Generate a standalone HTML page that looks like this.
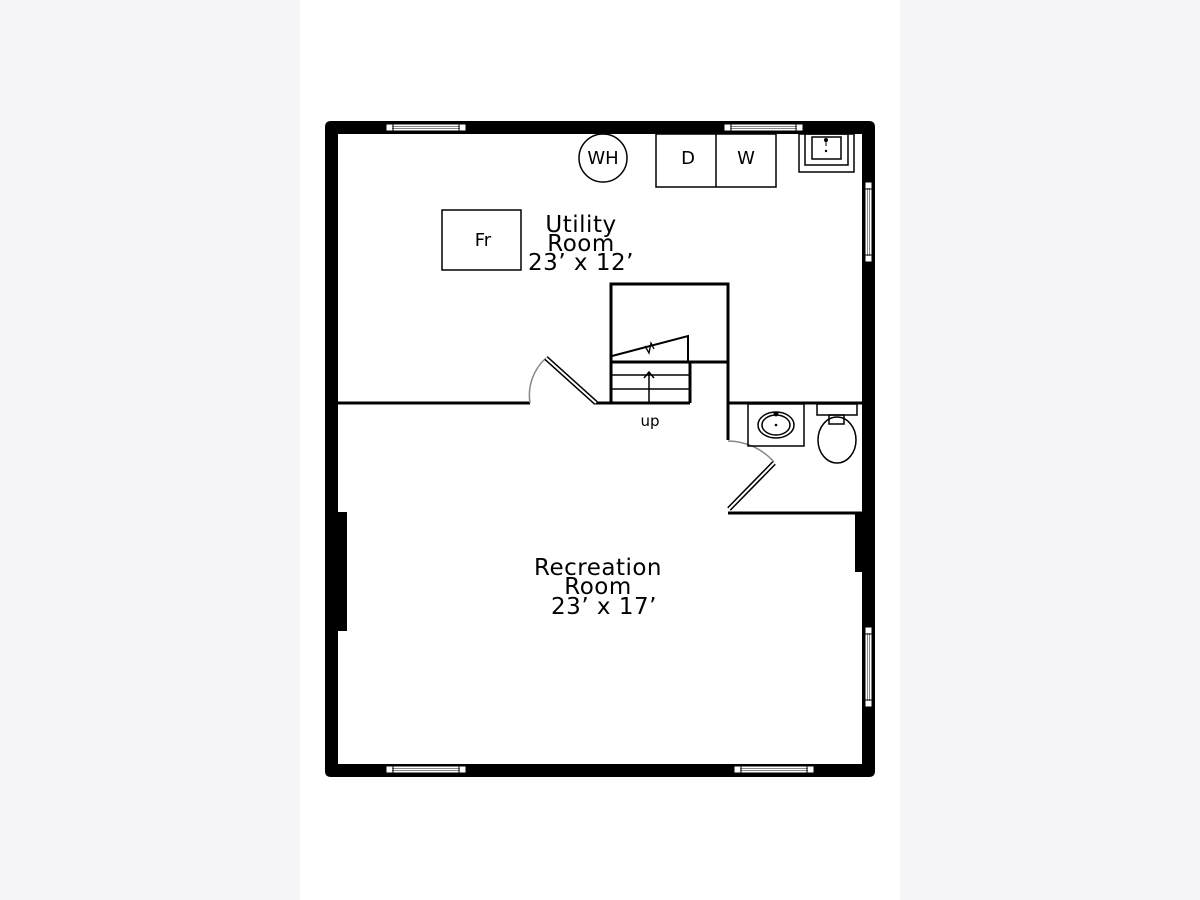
<!DOCTYPE html>
<html><head><style>
html,body{margin:0;padding:0;background:#f5f4f7;}
#c{position:absolute;left:300px;top:0;width:600px;height:900px;background:#fff;}
svg{position:absolute;left:0;top:0;}
text{font-family:"DejaVu Sans","Liberation Sans",sans-serif;fill:#000;}
</style></head><body>
<div id="c"></div>
<svg width="1200" height="900" viewBox="0 0 1200 900">
<path d="M331,121 H869 Q875,121 875,127 V771 Q875,777 869,777 H331 Q325,777 325,771 V127 Q325,121 331,121 Z M338,134 V764 H862 V134 Z" fill="#000" fill-rule="evenodd"/>
<rect x="337" y="512" width="10" height="119" fill="#000"/>
<rect x="855" y="514" width="8" height="58" fill="#000"/>
<g fill="#fff" stroke="#000" stroke-width="1">
<rect x="386" y="124" width="80" height="7"/>
<rect x="724" y="124" width="79" height="7"/>
<rect x="386" y="766" width="80" height="7"/>
<rect x="734" y="766" width="80" height="7"/>
<rect x="865" y="182" width="7" height="80"/>
<rect x="865" y="627" width="7" height="80"/>
</g>
<g stroke="#888" stroke-width="1" fill="none">
<path d="M392,126.5H460M392,128.5H460M730,126.5H797M730,128.5H797M392,768.5H460M392,770.5H460M740,768.5H808M740,770.5H808"/>
<path d="M867.5,188V256M869.5,188V256M867.5,633V701M869.5,633V701"/>
</g>
<g stroke="#000" stroke-width="1" fill="none">
<path d="M393,124V131M459,124V131M731,124V131M796,124V131M393,766V773M459,766V773M741,766V773M807,766V773M865,189H872M865,255H872M865,634H872M865,700H872"/>
</g>
<g stroke="#000" stroke-width="3" fill="none">
<path d="M338,403H530"/>
<path d="M595,403H611V284H728V403H862"/>
<path d="M611,362H690M690,362V403M611,403H690M690,362H728"/>
<path d="M728,403V440"/>
<path d="M728,513H862"/>
</g>
<g stroke="#000" stroke-width="1.5" fill="none">
<path d="M611,375H690M611,389H690"/>
<path d="M649,403V372M644,378L649,372L654,378"/>
<path d="M612,356L688,336V362" stroke-width="2"/>
<path d="M645,346L649,353L651,343L654,349" stroke-width="1.3"/>
</g>
<path d="M530,403 A50,50 0 0 1 546,358" stroke="#888" stroke-width="1.5" fill="none"/>
<path d="M546,358L596,403" stroke="#000" stroke-width="5" fill="none"/>
<path d="M546,358L596,403" stroke="#fff" stroke-width="2" fill="none"/>
<path d="M728,441 A62,62 0 0 1 774,462" stroke="#888" stroke-width="1.5" fill="none"/>
<path d="M774,463L729,509" stroke="#000" stroke-width="5" fill="none"/>
<path d="M774,463L729,509" stroke="#fff" stroke-width="2" fill="none"/>
<g stroke="#000" stroke-width="1.5" fill="none">
<rect x="748" y="404" width="56" height="42"/>
<ellipse cx="776" cy="425" rx="18" ry="13"/>
<ellipse cx="776" cy="425" rx="14" ry="10"/>
<rect x="817" y="404" width="40" height="11"/>
<rect x="829" y="415" width="15" height="9"/>
<ellipse cx="837" cy="440" rx="19" ry="23"/>
</g>
<circle cx="776" cy="414" r="2.5" fill="#000"/><circle cx="776" cy="425" r="1.3" fill="#000"/>
<g stroke="#000" stroke-width="1.5" fill="none">
<circle cx="603" cy="158" r="24"/>
<rect x="656" y="134" width="120" height="53"/>
<path d="M716,134V187"/>
<rect x="442" y="210" width="79" height="60"/>
<rect x="799" y="134" width="55" height="38"/>
<rect x="805" y="134" width="43" height="31"/>
<rect x="812" y="137" width="29" height="22"/>
</g>
<circle cx="826" cy="140" r="2" fill="#000"/><circle cx="826" cy="151" r="1.2" fill="#000"/>
<path d="M826,140V146" stroke="#000" stroke-width="1"/>
<g font-size="18" text-anchor="middle">
<text x="603" y="164">WH</text>
<text x="688" y="164">D</text>
<text x="746" y="164">W</text>
<text x="483" y="246">Fr</text>
</g>
<g font-size="23" text-anchor="middle" letter-spacing="0.5">
<text x="581" y="232">Utility</text>
<text x="581" y="251">Room</text>
<text x="581" y="270">23’ x 12’</text>
<text x="598" y="575">Recreation</text>
<text x="598" y="594">Room</text>
<text x="604" y="614">23’ x 17’</text>
</g>
<text x="650" y="426" font-size="15" text-anchor="middle" font-family="Liberation Sans,sans-serif">up</text>
</svg>
</body></html>
